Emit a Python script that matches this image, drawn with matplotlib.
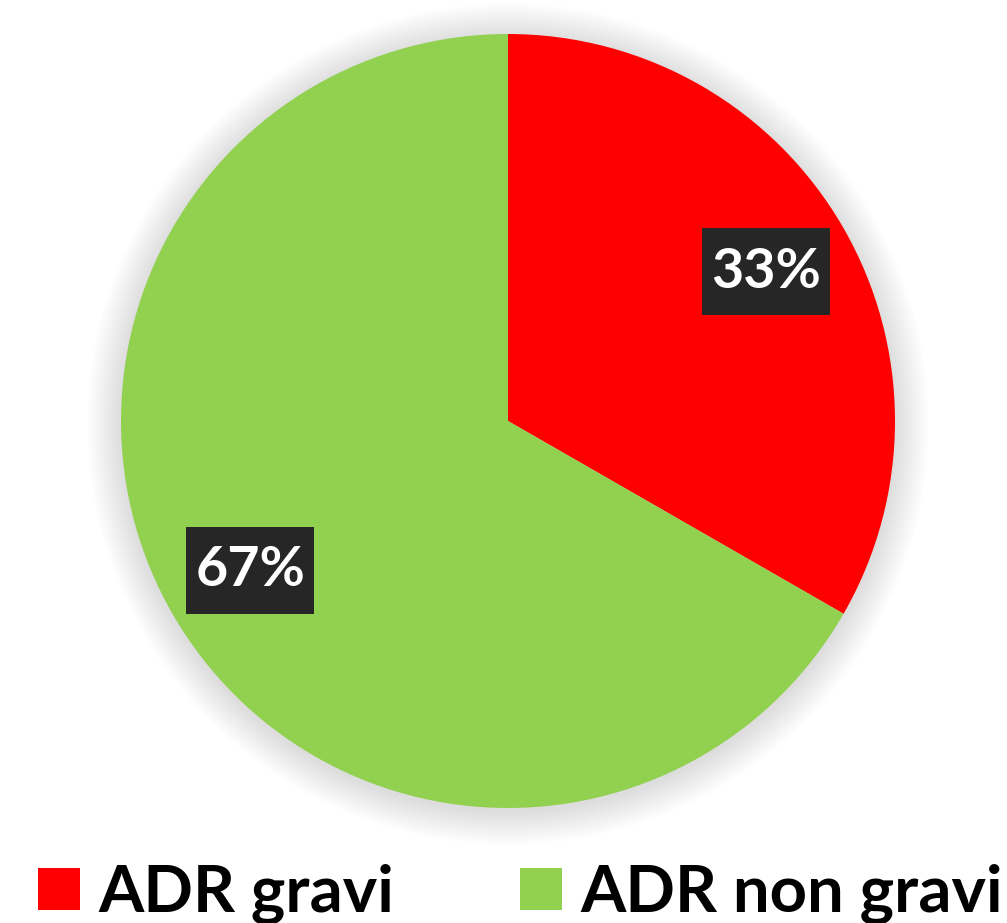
import matplotlib
matplotlib.use("Agg")
import matplotlib.pyplot as plt
from matplotlib.patches import Circle, Rectangle

labels = ["ADR gravi", "ADR non gravi"]
values = [33.3, 66.7]
colors = ["#FF0000", "#92D050"]

W, H = 1007, 923
fig = plt.figure(figsize=(W / 100, H / 100), dpi=100)
ax = fig.add_axes([0, 0, 1, 1])
ax.set_xlim(0, W)
ax.set_ylim(0, H)
ax.set_aspect("equal")
ax.axis("off")

cx, cy, r = 508, 923 - 421, 387

# soft glow/shadow around the pie
for k in range(34, 0, -1):
    ax.add_patch(Circle((cx, cy - 3), r + k, color="#000000", alpha=0.0035, lw=0, zorder=0))

wedges, texts, autotexts = ax.pie(
    values, colors=colors, startangle=90, counterclock=False,
    center=(cx, cy), radius=r, autopct="%.0f%%", pctdistance=0.77,
    wedgeprops=dict(linewidth=0),
    textprops=dict(color="white", fontsize=40, fontweight="bold", family="Lato"),
    frame=True,
)
ax.set_xlim(0, W)
ax.set_ylim(0, H)
ax.axis("off")

bw, bh = 128, 87
for t in autotexts:
    x, y = t.get_position()
    t.set_ha("center")
    t.set_va("center")
    t.set_zorder(5)
    ax.add_patch(Rectangle((x - bw / 2, y - bh / 2), bw, bh, color="#262626", lw=0, zorder=4))

# legend
sq = 42
legend_x = [38, 520]
ly = 923 - 910
for lx, lab, col in zip(legend_x, labels, colors):
    ax.add_patch(Rectangle((lx, ly), sq, sq, color=col, lw=0))
    ax.text(lx + 60, ly - 2, lab, fontsize=47, fontweight="bold", family="Lato",
            ha="left", va="baseline", color="black")

fig.savefig("out.png", dpi=100)
